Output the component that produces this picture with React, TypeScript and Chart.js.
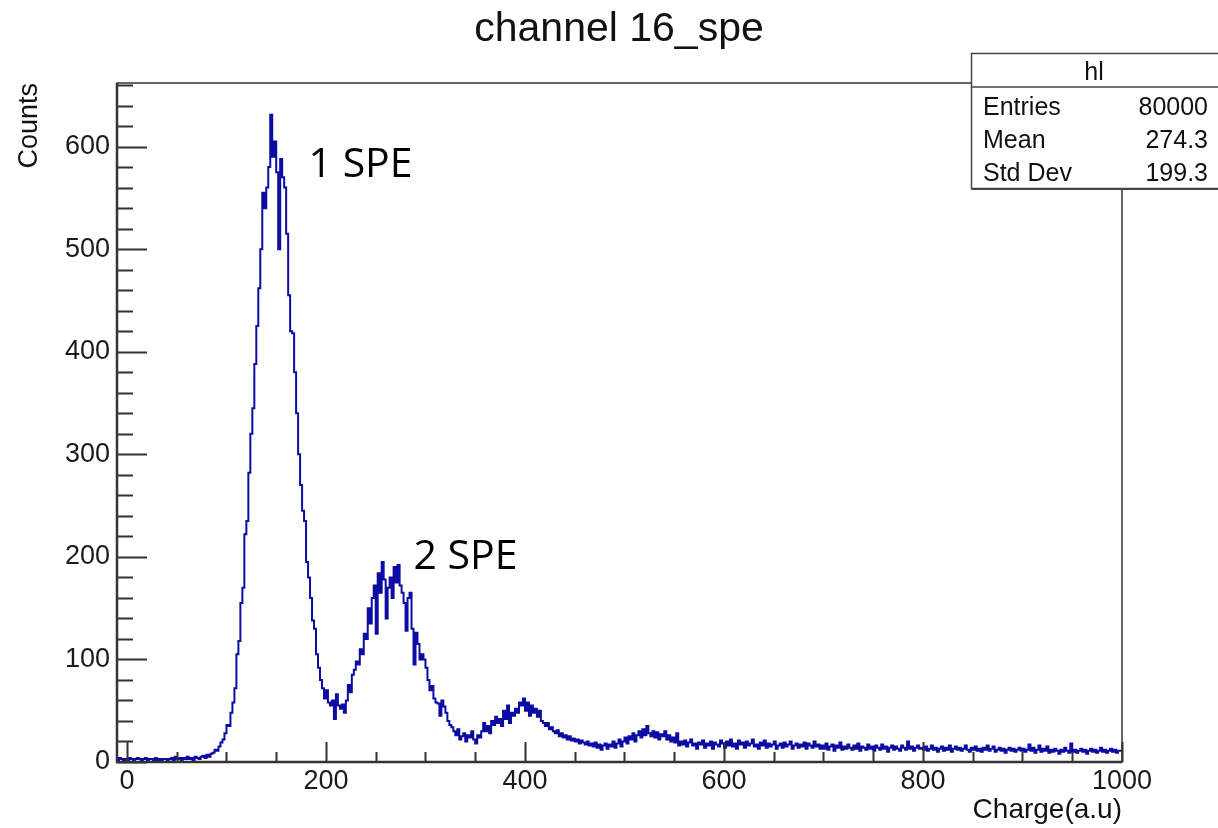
import React, { useEffect, useRef } from 'react';
import { Chart, registerables } from 'chart.js';

Chart.register(...registerables);

// ---- histogram data (2-unit bins starting at -10) ----
const binStart = -10;
const binWidth = 2;

const countsPedestal = [3, 2, 4, 3, 2];
const counts0to100 = [3,2,4,3,2,3,4,3,2,3, 4,2,3,3,2,4,2,3,2,3, 3,2,3,4,2,5,3,4,2,4, 3,5,3,4,2,5,4,3,5,6, 4,7,5,8,9,12,11,15,19,22];
const counts100to200 = [28,36,35,48,58,72,105,118,155,170, 222,235,282,320,345,388,425,462,500,555, 540,560,580,631,590,605,575,500,588,570, 560,515,455,420,418,380,340,300,270,245, 235,195,180,160,138,130,105,92,80,72];
const counts200to300 = [62,70,58,55,60,42,66,55,52,56, 48,60,75,68,85,90,98,95,110,105, 125,120,150,135,160,172,125,184,165,195, 178,140,170,180,160,190,175,192,172,165, 155,128,160,165,130,95,126,115,100,105];
const counts300to400 = [100,92,80,70,74,62,58,57,45,60, 54,48,40,36,34,30,26,32,22,25, 28,20,26,24,30,22,18,26,24,30, 38,30,35,28,40,36,44,38,42,35, 50,42,55,38,48,45,52,48,58,55];
const counts400to500 = [62,50,58,45,55,48,52,44,50,40, 38,35,38,32,34,30,28,31,25,28, 24,26,22,25,21,23,20,22,18,21, 19,17,20,16,18,15,19,14,17,12, 16,18,13,17,15,20,14,18,22,15];
const counts500to600 = [20,24,18,25,22,28,20,26,30,24, 32,26,35,28,25,30,24,29,22,27, 25,30,22,26,20,24,19,28,16,20, 17,21,15,19,22,16,18,13,19,17, 21,14,18,16,20,13,19,17,15,21];
const counts600to700 = [18,14,20,16,22,15,18,13,21,17, 19,14,20,16,18,22,15,17,13,19, 16,21,14,18,15,17,20,13,16,18, 14,19,15,17,20,13,16,18,14,17, 15,19,13,18,16,14,20,15,17,13];
const counts700to800 = [16,13,18,12,15,17,11,16,14,19, 12,15,13,17,14,12,16,13,18,11, 15,14,12,17,13,15,11,16,14,12, 17,13,15,10,14,16,12,15,13,11, 16,14,12,20,13,15,11,14,16,13];
const counts800to900 = [14,12,15,11,13,16,12,14,10,13, 15,11,14,12,16,10,13,15,12,14, 11,13,16,12,10,14,12,15,11,13, 10,14,12,16,11,13,15,10,12,14, 11,13,9,12,14,11,13,10,12,14];
const counts900to1000 = [11,13,10,12,17,11,14,9,12,16, 10,13,11,15,9,12,10,13,11,8, 12,10,14,11,9,18,10,12,9,11, 13,10,12,8,11,13,10,12,9,11, 14,10,12,9,11,13,10,12,9,11];

// ---- axes / labels ----
const xTickValues = [0, 200, 400, 600, 800, 1000];
const yTickValues = [0, 100, 200, 300, 400, 500, 600];
const xMin = -10;
const xMax = 1000;
const yMin = 0;
const yMax = 662;
const titleText = 'channel 16_spe';
const xTitle = 'Charge(a.u)';
const yTitle = 'Counts';

// ---- stats box ----
const statsName = 'hl';
const statsLabels = ['Entries', 'Mean', 'Std Dev'];
const statsValues = ['80000', '274.3', '199.3'];

// ---- peak annotations ----
const peakTexts = ['1 SPE', '2 SPE'];
const peakAnchorX = [182.5, 288];
const peakAnchorY = [570, 188];

const FONT = "'Liberation Sans', Arial, Helvetica, sans-serif";
const LINE_COLOR = '#0c0ca2';
const AXIS_COLOR = '#333333';

const rootDecor = {
  id: 'rootDecor',
  afterDraw(chart: any) {
    const { ctx, chartArea: a } = chart;
    const x = chart.scales.x;
    const y = chart.scales.y;
    ctx.save();

    // frame
    ctx.strokeStyle = AXIS_COLOR;
    ctx.lineWidth = 1.5;
    ctx.strokeRect(a.left, a.top, a.right - a.left, a.bottom - a.top);
    ctx.lineWidth = 2.5;
    ctx.beginPath();
    ctx.moveTo(a.left, a.top);
    ctx.lineTo(a.left, a.bottom);
    ctx.lineTo(a.right, a.bottom);
    ctx.stroke();

    // y ticks (inward)
    ctx.lineWidth = 2;
    ctx.beginPath();
    for (let v = 0; v <= yMax; v += 20) {
      const py = Math.round(y.getPixelForValue(v)) + 0.5;
      const len = v % 100 === 0 ? 30 : 16;
      ctx.moveTo(a.left, py);
      ctx.lineTo(a.left + len, py);
    }
    ctx.stroke();

    // x ticks (inward)
    ctx.beginPath();
    for (let v = 0; v <= xMax; v += 50) {
      const px = Math.round(x.getPixelForValue(v)) + 0.5;
      const len = v % 200 === 0 ? 20 : 10;
      ctx.moveTo(px, a.bottom);
      ctx.lineTo(px, a.bottom - len);
    }
    ctx.stroke();

    // title
    ctx.fillStyle = '#111';
    ctx.font = `41px ${FONT}`;
    ctx.textAlign = 'center';
    ctx.textBaseline = 'alphabetic';
    ctx.fillText(titleText, 619, 41);

    // x title
    ctx.font = `28px ${FONT}`;
    ctx.textAlign = 'right';
    ctx.fillText(xTitle, a.right, 818);

    // y title
    ctx.save();
    ctx.translate(37, a.top);
    ctx.rotate(-Math.PI / 2);
    ctx.font = `27px ${FONT}`;
    ctx.textAlign = 'right';
    ctx.textBaseline = 'alphabetic';
    ctx.fillText(yTitle, 0, 0);
    ctx.restore();

    // peak annotations
    ctx.font = "41px 'Open Sans', 'Noto Sans', sans-serif";
    ctx.textAlign = 'left';
    ctx.fillStyle = '#000';
    peakTexts.forEach((t, i) => {
      ctx.fillText(t, x.getPixelForValue(peakAnchorX[i]), y.getPixelForValue(peakAnchorY[i]));
    });

    // stats box
    const bx = 971.5, by = 53.5, bw = 260, bh = 135;
    ctx.fillStyle = '#fff';
    ctx.fillRect(bx, by, bw, bh);
    ctx.strokeStyle = '#444';
    ctx.lineWidth = 1.5;
    ctx.strokeRect(bx, by, bw, bh);
    ctx.lineWidth = 2;
    ctx.beginPath();
    ctx.moveTo(bx, by + bh + 0.5);
    ctx.lineTo(bx + bw, by + bh + 0.5);
    ctx.stroke();
    ctx.lineWidth = 1.5;
    ctx.beginPath();
    ctx.moveTo(bx, 87);
    ctx.lineTo(bx + bw, 87);
    ctx.stroke();

    ctx.fillStyle = '#111';
    ctx.font = `25px ${FONT}`;
    ctx.textAlign = 'center';
    ctx.fillText(statsName, 1094, 80);
    statsLabels.forEach((lab, i) => {
      const base = 115 + i * 33;
      ctx.textAlign = 'left';
      ctx.fillText(lab, 983, base);
      ctx.textAlign = 'right';
      ctx.fillText(statsValues[i], 1208, base);
    });

    ctx.restore();
  },
};

export default function App() {
  const ref = useRef<HTMLCanvasElement>(null);

  useEffect(() => {
    const counts = [
      ...countsPedestal,
      ...counts0to100,
      ...counts100to200,
      ...counts200to300,
      ...counts300to400,
      ...counts400to500,
      ...counts500to600,
      ...counts600to700,
      ...counts700to800,
      ...counts800to900,
      ...counts900to1000,
    ];
    const pts = counts.map((c, i) => ({ x: binStart + i * binWidth, y: c }));
    pts.push({ x: binStart + counts.length * binWidth, y: counts[counts.length - 1] });

    const tickFont = { family: FONT, size: 27 };

    const chart = new Chart(ref.current as HTMLCanvasElement, {
      type: 'line',
      data: {
        datasets: [
          {
            data: pts,
            borderColor: LINE_COLOR,
            borderWidth: 2,
            pointRadius: 0,
            stepped: 'after',
            fill: false,
          } as any,
        ],
      },
      options: {
        animation: false,
        responsive: false,
        layout: { padding: { left: 0, top: 83, right: 96, bottom: 0 } },
        plugins: {
          legend: { display: false },
          tooltip: { enabled: false },
          title: { display: false },
        },
        scales: {
          x: {
            type: 'linear',
            min: xMin,
            max: xMax,
            grid: { display: false, drawTicks: false },
            border: { display: false },
            ticks: {
              font: tickFont,
              color: '#1a1a1a',
              padding: 3,
              maxRotation: 0,
              autoSkip: false,
              callback: (v: any) => String(v),
            },
            afterBuildTicks: (s: any) => {
              s.ticks = xTickValues.map((v) => ({ value: v }));
            },
            afterFit: (s: any) => {
              s.height = 66;
            },
          },
          y: {
            type: 'linear',
            min: yMin,
            max: yMax,
            grid: { display: false, drawTicks: false },
            border: { display: false },
            ticks: {
              font: tickFont,
              color: '#1a1a1a',
              padding: 7,
              autoSkip: false,
              callback: (v: any) => String(v),
            },
            afterBuildTicks: (s: any) => {
              s.ticks = yTickValues.map((v) => ({ value: v }));
            },
            afterFit: (s: any) => {
              s.width = 117;
            },
          },
        },
      } as any,
      plugins: [rootDecor],
    });
    return () => chart.destroy();
  }, []);

  return (
    <div style={{ position: 'absolute', left: 0, top: 0, width: 1218, height: 828, background: '#fff' }}>
      <canvas ref={ref} width={1218} height={828} style={{ display: 'block' }} />
    </div>
  );
}
